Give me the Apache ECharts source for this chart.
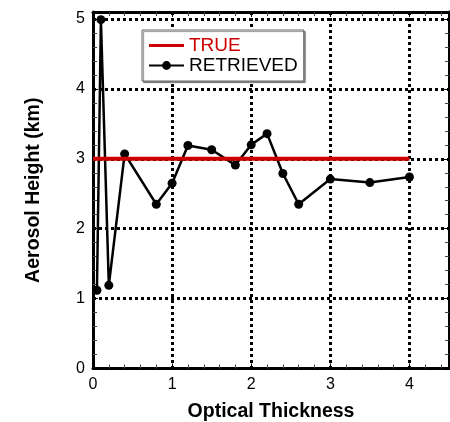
<!DOCTYPE html>
<html>
<head>
<meta charset="utf-8">
<script src="https://cdn.jsdelivr.net/npm/echarts@6/dist/echarts.min.js"></script>
<style>
  html, body { margin: 0; padding: 0; background: #fff; }
  #chart { width: 450px; height: 422px; }
</style>
</head>
<body>
<div id="chart"></div>
<script>
// Retrieved aerosol layer height vs. optical thickness
const opticalThickness = [0.05, 0.1, 0.2, 0.4, 0.8, 1.0, 1.2, 1.5, 1.8, 2.0, 2.2, 2.4, 2.6, 3.0, 3.5, 4.0];
const retrievedHeight  = [1.12, 4.99, 1.19, 3.07, 2.35, 2.65, 3.19, 3.13, 2.91, 3.2, 3.36, 2.79, 2.35, 2.71, 2.66, 2.74];
// True layer height, constant over the simulated range
const trueThickness = [0, 4];
const trueHeight    = [3, 3];

const FONT = "'Liberation Sans', Arial, sans-serif";

const intOnly = v => (Math.abs(v - Math.round(v)) < 1e-9 ? String(Math.round(v)) : '');

function axisBase(min, max, position, withLabels) {
  return {
    type: 'value',
    position: position,
    min: min,
    max: max,
    interval: 1,
    axisLine: { show: true, onZero: false, lineStyle: { color: '#000', width: 3 } },
    axisTick: { show: true, inside: true, length: 5, lineStyle: { color: '#000', width: 1 } },
    minorTick: { show: true, splitNumber: 5, length: 4, lineStyle: { color: '#444', width: 1 } },
    splitLine: withLabels
      ? { show: true, lineStyle: { color: '#000', width: 3, type: [3, 3] } }
      : { show: false },
    minorSplitLine: { show: false },
    axisLabel: withLabels
      ? { show: true, color: '#000', fontSize: 16, fontFamily: FONT, formatter: intOnly, margin: 8 }
      : { show: false }
  };
}

const titleStyle = { color: '#000', fontSize: 19.5, fontWeight: 'bold', fontFamily: FONT };

const xBottom = Object.assign(axisBase(0, 4.5, 'bottom', true), {
  name: 'Optical Thickness',
  nameLocation: 'middle',
  nameGap: 33,
  nameTextStyle: titleStyle
});
const xTop = axisBase(0, 4.5, 'top', false);

const yLeft = Object.assign(axisBase(0, 5.1, 'left', true), {
  name: 'Aerosol Height (km)',
  nameLocation: 'middle',
  nameGap: 49.5,
  nameTextStyle: titleStyle
});
const yRight = axisBase(0, 5.1, 'right', false);

const chart = echarts.init(document.getElementById('chart'), null, { renderer: 'canvas' });

chart.setOption({
  animation: false,
  backgroundColor: '#fff',
  grid: { left: 93, right: 1, top: 12, bottom: 53.5, containLabel: false, outerBoundsMode: 'none' },
  xAxis: [xBottom, xTop],
  yAxis: [yLeft, yRight],
  legend: {
    orient: 'vertical',
    left: 142,
    top: 30,
    padding: [6, 6, 6, 6],
    itemGap: 1,
    itemWidth: 35,
    itemHeight: 11,
    backgroundColor: '#fff',
    borderColor: '#666',
    borderWidth: 1,
    shadowColor: 'rgba(0,0,0,0.45)',
    shadowOffsetX: 1.5,
    shadowOffsetY: 1.5,
    shadowBlur: 1,
    textStyle: { fontSize: 19, fontFamily: FONT, color: '#000' },
    data: [
      {
        name: 'TRUE',
        icon: 'path://M0,0H35V3H0Z',
        itemStyle: { color: '#cc0000' },
        textStyle: { color: '#cc0000' }
      },
      { name: 'RETRIEVED' }
    ]
  },
  series: [
    {
      name: 'RETRIEVED',
      type: 'line',
      z: 3,
      data: opticalThickness.map((x, i) => [x, retrievedHeight[i]]),
      symbol: 'circle',
      symbolSize: 9,
      itemStyle: { color: '#000' },
      lineStyle: { color: '#000', width: 2.5 }
    },
    {
      name: 'TRUE',
      type: 'line',
      z: 4,
      data: trueThickness.map((x, i) => [x, trueHeight[i]]),
      symbol: 'none',
      itemStyle: { color: '#cc0000' },
      lineStyle: { color: '#cc0000', width: 4 }
    }
  ]
});
</script>
</body>
</html>
